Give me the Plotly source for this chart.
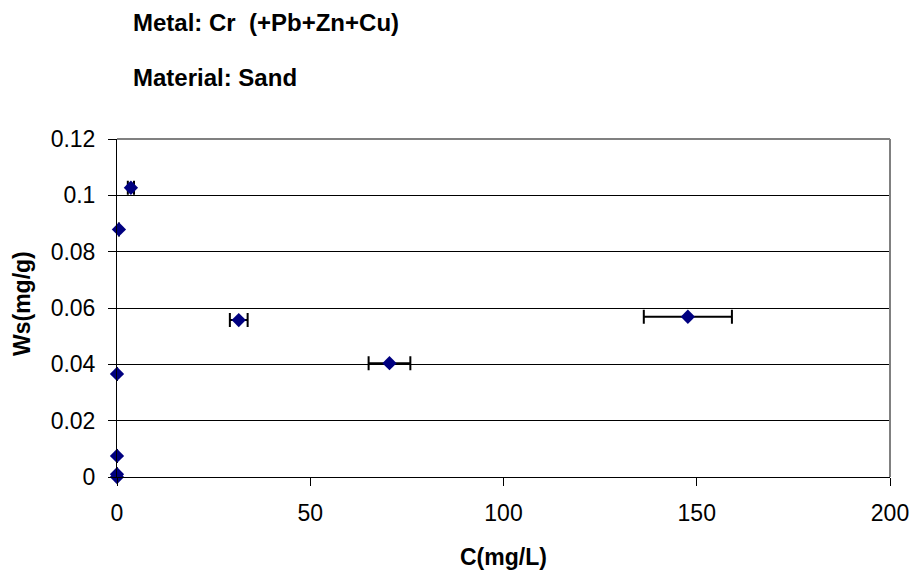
import plotly.graph_objects as go

# Data
c_mg_l = [0.0, 0.0, 0.0, 0.0, 0.5, 3.6, 31.5, 70.5, 147.7]
ws_mg_g = [0.0, 0.001, 0.0075, 0.0366, 0.0879, 0.1027, 0.0557, 0.0404, 0.0569]
c_err = [None, None, None, None, None, 0.8, 2.3, 5.4, 11.4]

x_ticks = [0, 50, 100, 150, 200]
y_ticks = [0, 0.02, 0.04, 0.06, 0.08, 0.1, 0.12]
y_tick_text = ["0", "0.02", "0.04", "0.06", "0.08", "0.1", "0.12"]

title_line1 = "Metal: Cr  (+Pb+Zn+Cu)"
title_line2 = "Material: Sand"
x_title = "C(mg/L)"
y_title = "Ws(mg/g)"

FONT = "Liberation Sans, Arial, sans-serif"

fig = go.Figure()
fig.add_trace(go.Scatter(
    x=c_mg_l, y=ws_mg_g, mode="markers",
    marker=dict(symbol="diamond", size=11, color="#000080"),
    error_x=dict(type="data", array=c_err, visible=True,
                 color="black", thickness=2, width=7),
    cliponaxis=False, showlegend=False,
))

fig.update_layout(
    width=921, height=575,
    margin=dict(l=117, r=25, t=139, b=98),
    paper_bgcolor="white", plot_bgcolor="white",
    font=dict(family=FONT, size=23, color="black"),
    xaxis=dict(range=[0, 200], tickvals=x_ticks, ticks="outside", ticklen=8,
               tickcolor="black", showgrid=False, zeroline=False,
               showline=True, linecolor="black", linewidth=1,
               ticklabelstandoff=7, tickfont=dict(size=23)),
    yaxis=dict(range=[0, 0.12], tickvals=y_ticks, ticktext=y_tick_text,
               ticks="outside", ticklen=8, tickcolor="black",
               showgrid=True, gridcolor="black", gridwidth=1, zeroline=False,
               showline=True, linecolor="black", linewidth=1,
               ticklabelstandoff=8, tickfont=dict(size=23)),
    shapes=[
        dict(type="line", xref="x domain", yref="y domain", x0=0, x1=1, y0=1, y1=1,
             line=dict(color="#808080", width=2), layer="above"),
        dict(type="line", xref="x domain", yref="y domain", x0=1, x1=1, y0=0, y1=1,
             line=dict(color="#808080", width=2), layer="above"),
    ],
    annotations=[
        dict(text="<b>" + title_line1 + "</b>", xref="paper", yref="paper",
             x=0, y=1, xanchor="left", yanchor="middle", xshift=14, yshift=117,
             showarrow=False, font=dict(size=24)),
        dict(text="<b>" + title_line2 + "</b>", xref="paper", yref="paper",
             x=0, y=1, xanchor="left", yanchor="middle", xshift=14, yshift=62,
             showarrow=False, font=dict(size=24)),
        dict(text="<b>" + x_title + "</b>", xref="paper", yref="paper",
             x=0.5, y=0, xanchor="center", yanchor="middle", yshift=-80,
             showarrow=False, font=dict(size=23)),
        dict(text="<b>" + y_title + "</b>", xref="paper", yref="paper",
             x=0, y=0.5, xanchor="center", yanchor="middle", xshift=-95, yshift=4,
             textangle=-90, showarrow=False, font=dict(size=23)),
    ],
)

fig.write_html("out.html")
